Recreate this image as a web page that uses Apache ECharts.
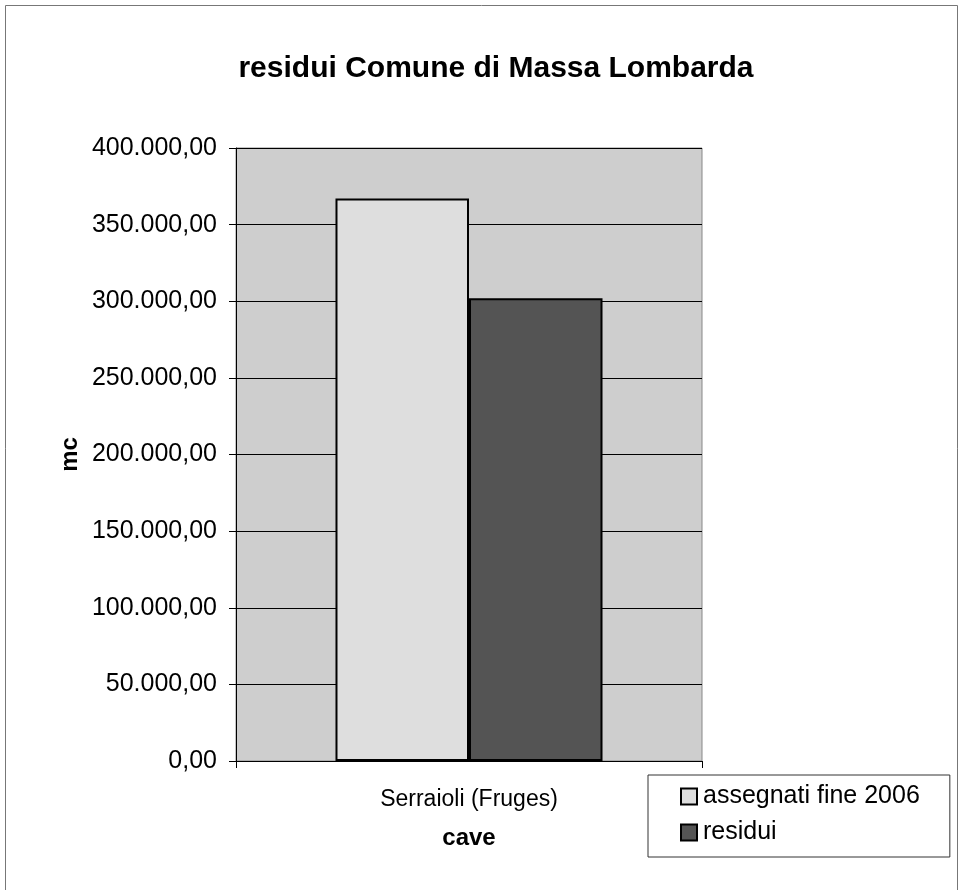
<!DOCTYPE html>
<html><head><meta charset="utf-8">
<script src="https://cdn.jsdelivr.net/npm/echarts@6/dist/echarts.min.js"></script>
<style>html,body{margin:0;padding:0;background:#fff}#c{width:963px;height:890px}</style>
</head><body><div id="c"></div>
<script>
var categories = ['Serraioli (Fruges)'];
var seriesNames = ['assegnati fine 2006', 'residui'];
var assegnati = [367000];
var residui = [302000];

function fmt(v){
  var s = Math.round(v).toString().replace(/\B(?=(\d{3})+(?!\d))/g, '.');
  return s + ',00';
}
var F = 'Liberation Sans, Arial, sans-serif';
var chart = echarts.init(document.getElementById('c'));
chart.setOption({
  animation:false,
  backgroundColor:'#fff',
  title:{text:'residui Comune di Massa Lombarda', left:491, top:49, textAlign:'center',
    textStyle:{fontFamily:F, fontSize:30, fontWeight:'bold', color:'#000'}},
  graphic:[{type:'rect', shape:{x:5.5,y:5.5,width:952,height:900}, style:{fill:null, stroke:'#777', lineWidth:1}, silent:true}],
  legend:{orient:'vertical', left:648, top:775, data:seriesNames,
    backgroundColor:'#fff', borderColor:'#333', borderWidth:1,
    padding:[9,30,12,32], itemGap:11, itemWidth:16, itemHeight:16, icon:'rect',
    textStyle:{fontFamily:F, fontSize:25, color:'#000', padding:[0,0,0,1]}},
  grid:{left:236, right:261, top:148, bottom:129, show:true, backgroundColor:'#cecece', borderColor:'#888', borderWidth:1},
  xAxis:{type:'category', data:categories, name:'cave', nameLocation:'middle', nameGap:65,
    nameTextStyle:{fontFamily:F, fontSize:24, fontWeight:'bold', color:'#000'},
    axisLine:{lineStyle:{color:'#000', width:1}},
    axisTick:{show:true, length:7, lineStyle:{color:'#000'}},
    axisLabel:{fontFamily:F, fontSize:23, color:'#000', margin:27}},
  yAxis:{type:'value', min:0, max:400000, interval:50000, name:'mc', nameLocation:'middle', nameGap:154,
    nameTextStyle:{fontFamily:F, fontSize:24, fontWeight:'bold', color:'#000'},
    axisLine:{show:true, lineStyle:{color:'#000', width:1}},
    axisTick:{show:true, length:7, lineStyle:{color:'#000'}},
    splitLine:{lineStyle:{color:'#000', width:1}},
    axisLabel:{fontFamily:F, fontSize:25, color:'#000', margin:19, formatter:fmt}},
  series:[
    {name:seriesNames[0], type:'bar', data:assegnati, barGap:'0%', barCategoryGap:'42.7%',
      itemStyle:{color:'#dedede', borderColor:'#000', borderWidth:2}},
    {name:seriesNames[1], type:'bar', data:residui,
      itemStyle:{color:'#545454', borderColor:'#000', borderWidth:2}}
  ]
});
</script></body></html>
